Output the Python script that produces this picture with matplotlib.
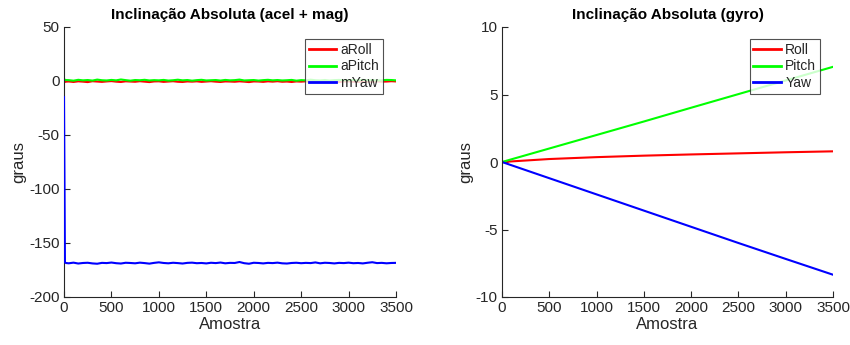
import matplotlib
matplotlib.use("Agg")
import matplotlib.pyplot as plt

plt.rcParams['font.family'] = ['Liberation Sans', 'DejaVu Sans']
plt.rcParams['axes.unicode_minus'] = False

# ---- data: left plot (acel + mag) ----
amostra_acc = [0, 10, 20] + list(range(50, 3501, 50))
aRoll = [-1.5, -0.8, -0.6,
         -0.4, -0.9, -0.3, -0.6, -1.0, -0.2, -0.5, -0.8, -0.4, -0.1,
         -0.6, -0.9, -0.3, -0.5, -0.7, -0.2, -0.6, -1.0, -0.4, -0.3,
         -0.8, -0.5, -0.2, -0.7, -0.9, -0.4, -0.6, -0.3, -0.8, -0.5,
         -0.2, -0.6, -0.9, -0.4, -0.5, -0.7, -0.3, -0.6, -1.0, -0.4,
         -0.5, -0.8, -0.3, -0.6, -0.2, -0.7, -0.5, -0.9, -0.4, -0.6,
         -0.3, -0.7, -0.5, -0.8, -0.2, -0.6, -0.4, -0.9, -0.5, -0.3,
         -0.6, -0.8, -0.4, -0.5, -0.7, -0.3, -0.6, -0.5, -0.2, -0.4]
aPitch = [0.5, 1.2, 0.9,
          0.8, 0.3, 1.1, 0.6, 0.9, 0.4, 1.3, 0.7, 0.5, 1.0,
          0.6, 1.4, 0.8, 0.3, 0.9, 0.7, 1.1, 0.5, 0.8, 0.6,
          1.0, 0.4, 0.7, 1.2, 0.6, 0.9, 0.3, 0.8, 1.1, 0.5,
          0.7, 0.9, 0.4, 1.0, 0.6, 0.8, 1.3, 0.5, 0.7, 0.9,
          0.4, 0.8, 1.1, 0.6, 0.9, 0.5, 0.7, 1.0, 0.3, 0.8,
          0.6, 1.2, 0.7, 0.5, 0.9, 0.4, 0.8, 1.0, 0.6, 0.7,
          0.9, 0.5, 1.1, 0.6, 0.8, 0.4, 0.7, 1.0, 0.9, 0.6]
mYaw = [-15.0, -168.0, -168.5,
        -168.8, -168.2, -169.0, -168.5, -168.3, -168.9, -169.2, -168.4, -168.6, -168.1,
        -168.7, -169.0, -168.3, -168.5, -168.8, -168.2, -168.6, -169.1, -168.4, -167.9,
        -168.5, -168.8, -168.3, -168.6, -169.0, -168.4, -168.2, -168.7, -168.5, -168.9,
        -168.3, -168.6, -168.1, -168.8, -168.4, -168.5, -167.6, -168.7, -169.2, -168.3,
        -168.5, -168.9, -168.4, -168.6, -168.2, -168.8, -169.0, -168.5, -168.3, -168.7,
        -168.4, -168.6, -168.0, -168.8, -168.3, -168.5, -168.9, -168.4, -168.6, -168.2,
        -168.7, -168.5, -168.9, -168.3, -167.8, -168.6, -168.4, -168.8, -168.5, -168.4]

# ---- data: right plot (gyro) ----
amostra_gyro = [0, 500, 1000, 1500, 2000, 2500, 3000, 3500]
Roll = [0.0, 0.22, 0.36, 0.47, 0.56, 0.64, 0.72, 0.79]
Pitch = [0.0, 1.0, 2.0, 3.0, 4.02, 5.03, 6.04, 7.05]
Yaw = [0.0, -1.2, -2.4, -3.6, -4.8, -6.0, -7.18, -8.35]

xticks = [0, 500, 1000, 1500, 2000, 2500, 3000, 3500]
yticks_left = [-200, -150, -100, -50, 0, 50]
yticks_right = [-10, -5, 0, 5, 10]

TXT = '#262626'
W, H = 850, 345
fig = plt.figure(figsize=(8.5, 3.45), dpi=100)
ax1 = fig.add_axes([64 / W, 1 - 297 / H, (396 - 64) / W, 270 / H])
ax2 = fig.add_axes([502 / W, 1 - 297 / H, (833 - 502) / W, 270 / H])

ax1.plot(amostra_acc, aRoll, color=(1, 0, 0), lw=1.5, label='aRoll')
ax1.plot(amostra_acc, aPitch, color=(0, 1, 0), lw=1.5, label='aPitch')
ax1.plot(amostra_acc, mYaw, color=(0, 0, 1), lw=1.5, label='mYaw', zorder=3)
ax1.set_ylim(-200, 50)
ax1.set_yticks(yticks_left)
ax1.set_title('Inclinação Absoluta (acel + mag)', fontsize=11, fontweight='bold', color='black', pad=6)

ax2.plot(amostra_gyro, Roll, color=(1, 0, 0), lw=1.5, label='Roll')
ax2.plot(amostra_gyro, Pitch, color=(0, 1, 0), lw=1.5, label='Pitch')
ax2.plot(amostra_gyro, Yaw, color=(0, 0, 1), lw=1.5, label='Yaw')
ax2.set_ylim(-10, 10)
ax2.set_yticks(yticks_right)
ax2.set_title('Inclinação Absoluta (gyro)', fontsize=11, fontweight='bold', color='black', pad=6)

for ax in (ax1, ax2):
    ax.set_xlim(0, 3500)
    ax.set_xticks(xticks)
    ax.spines['top'].set_visible(False)
    ax.spines['right'].set_visible(False)
    for s in ('left', 'bottom'):
        ax.spines[s].set_color(TXT)
        ax.spines[s].set_linewidth(0.8)
    ax.tick_params(direction='in', length=4, width=0.8, colors=TXT, labelsize=11, pad=3)
    ax.set_xlabel('Amostra', fontsize=12, color=TXT, labelpad=1)
    ax.set_ylabel('graus', fontsize=12, color=TXT, labelpad=2)
    leg = ax.legend(loc='upper right', bbox_to_anchor=(0.96, 0.955), fontsize=10, frameon=True,
                    fancybox=False, edgecolor=TXT, handlelength=2.0, handletextpad=0.3,
                    borderpad=0.25, labelspacing=0.2, borderaxespad=0.0)
    leg.get_frame().set_linewidth(0.8)
    for ln in leg.get_lines():
        ln.set_linewidth(2.0)
    for t in leg.get_texts():
        t.set_color(TXT)

fig.savefig('out.png', dpi=100)
